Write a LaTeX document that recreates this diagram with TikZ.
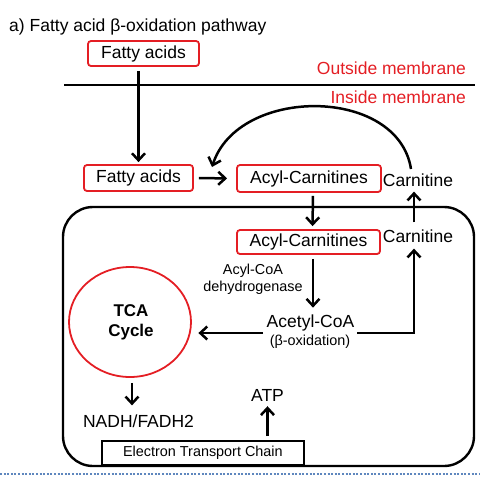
\documentclass[tikz,border=0pt]{standalone}
\usepackage{fontspec}
\setmainfont{Liberation Sans}
\usetikzlibrary{arrows.meta,shapes.geometric}
\definecolor{myred}{RGB}{228,30,36}
\definecolor{dotblue}{RGB}{95,135,190}
\tikzset{
  redbox/.style={draw=myred,line width=1.8pt,rounded corners=3pt,inner sep=0pt,font=\fontsize{17.5}{21}\selectfont},
  txt/.style={inner sep=0pt,font=\fontsize{17.5}{21}\selectfont},
  small/.style={inner sep=0pt,font=\fontsize{14.4}{17}\selectfont},
  arr/.style={line width=2.5pt,-{Straight Barb[length=7pt,width=13pt]}},
  thick line/.style={line width=2.4pt}
}
\begin{document}
\begin{tikzpicture}[x=1pt,y=-1pt]
\useasboundingbox (0,0) rectangle (480,480);
% title
\node[txt,anchor=west] (title) at (9,27) {a) Fatty acid β-oxidation pathway};
% outside
\node[redbox,minimum width=111pt,minimum height=25pt] (fa1) at (143.5,53.5) {Fatty acids};
\coordinate (m1) at (64,85);
\coordinate (m2) at (475,85);
\draw[thick line] (m1) -- (m2);
\node[txt,text=myred,anchor=east] (outm) at (466,68) {Outside membrane};
\node[txt,text=myred,anchor=east] (inm) at (466,97) {Inside membrane};
% row 1
\node[redbox,minimum width=109pt,minimum height=26pt] (fa2) at (138.5,178) {Fatty acids};
\node[redbox,minimum width=144pt,minimum height=27pt] (ac1) at (309,178.5) {Acyl-Carnitines};
\node[txt] (carn1) at (418,180) {Carnitine};
% big compartment
\draw[thick line,rounded corners=30pt] (63,207) rectangle (474,466);
\node[redbox,minimum width=143pt,minimum height=24pt] (ac2) at (308.5,242) {Acyl-Carnitines};
\node[txt] (carn2) at (418,236) {Carnitine};
\node[small,align=center] (acd) at (253,279.5) {Acyl-CoA\\dehydrogenase};
\node[txt] (acetyl) at (310.5,323) {Acetyl-CoA};
\node[small] (beta) at (310,342) {(β-oxidation)};
\node[draw=myred,line width=1.8pt,ellipse,minimum width=122pt,minimum height=110pt,inner sep=0pt] (tca) at (130,322) {};
\node[inner sep=0pt,align=center,font=\fontsize{17}{20}\selectfont\bfseries] (tcat) at (131,322) {TCA\\Cycle};
\node[txt] (nadh) at (138.5,421) {NADH/FADH2};
\node[draw,line width=1.8pt,minimum width=202pt,minimum height=24pt,inner sep=0pt,small,anchor=south west] (etc) at (101,466) {Electron Transport Chain};
\node[txt] (atp) at (267.5,395) {ATP};
% connectors
\draw[arr] ([yshift=-4pt]fa1.south -| fa2.north) -- ([yshift=2pt]fa2.north);
\draw[arr,shorten <=5pt,shorten >=9pt] (fa2.east) -- (ac1.west);
\coordinate (c1s) at (411,169);
\coordinate (c1e) at (212,167);
\draw[arr] (c1s) .. controls (398,86) and (238,86) .. (c1e);
\draw[arr,shorten <=3pt,shorten >=3pt] ([xshift=4pt]ac1.south) -- ([xshift=4pt]ac2.north);
\draw[arr] ([yshift=7pt]carn2.north -| 414,0) -- ([yshift=-5pt]carn1.south -| 414,0);
\draw[arr,shorten <=4pt,shorten >=7pt] ([xshift=4.5pt]ac2.south) -- ([xshift=2.5pt]acetyl.north);
\coordinate (aL) at (263,333);
\coordinate (aR) at (357,333);
\draw[arr,shorten >=6.5pt] (aL) -- (tca.east |- aL);
\draw[arr] (aR) -- (414,333) -- ([yshift=-6pt]carn2.south -| 414,0);
\draw[arr,shorten <=5pt,shorten >=9pt] (tca.south -| 132,0) -- (nadh.north -| 132,0);
\draw[arr,shorten <=4pt,shorten >=5pt] (etc.north -| atp.south) -- (atp.south);
% dotted separator
\coordinate (d1) at (0,474);
\coordinate (d2) at (480,474);
\draw[dotblue,line width=2pt,dash pattern=on 2pt off 1.6pt] (d1) -- (d2);
\end{tikzpicture}
\end{document}
